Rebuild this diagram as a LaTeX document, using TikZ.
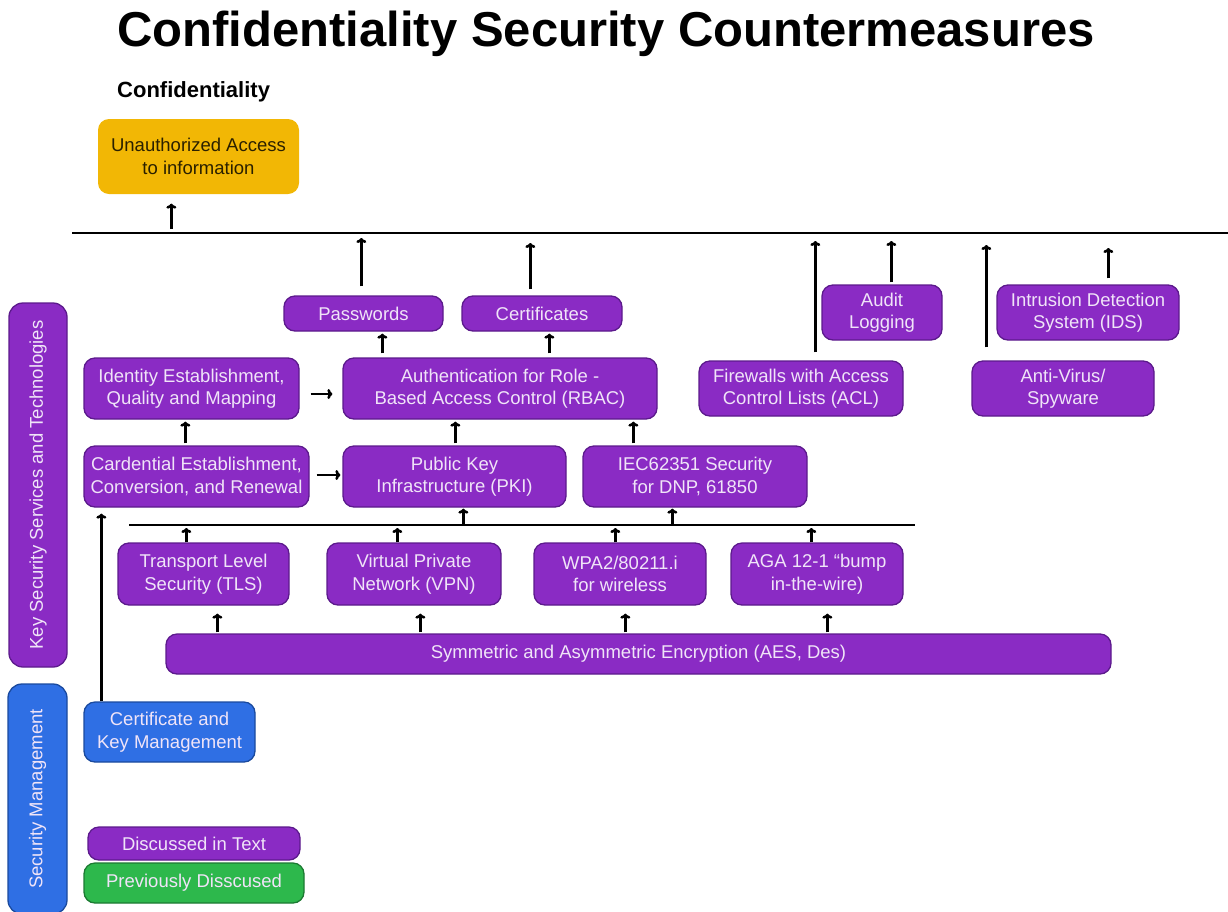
\documentclass[tikz,border=0pt]{standalone}
\usepackage{fontspec}
\setmainfont{Liberation Sans}
\usetikzlibrary{arrows.meta}
\definecolor{pfill}{HTML}{8A2BC4}
\definecolor{pdraw}{HTML}{5C1A8C}
\definecolor{ptext}{HTML}{F0E4F8}
\definecolor{bfill}{HTML}{2F6FE4}
\definecolor{bdraw}{HTML}{1A4A9E}
\definecolor{gfill}{HTML}{2DB84C}
\definecolor{gdraw}{HTML}{1C7A32}
\definecolor{yfill}{HTML}{F2B705}
\definecolor{ytext}{HTML}{2A2000}
\tikzset{
  boxbase/.style={rounded corners=11pt, line width=1.3pt, align=center, inner sep=0pt,
    font=\fontsize{18.5}{22.5}\selectfont},
  pbox/.style={boxbase, draw=pdraw, fill=pfill, text=ptext},
  bbox/.style={boxbase, draw=bdraw, fill=bfill, text=ptext},
  gbox/.style={boxbase, draw=gdraw, fill=gfill, text=ptext},
  ybox/.style={boxbase, draw=none, fill=yfill, text=ytext},
  sz/.style 2 args={minimum width=#1pt, minimum height=#2pt},
  arr/.style={-{To[length=5pt,width=10pt]}, line width=2.6pt},
  bus/.style={line width=2.6pt},
}
\begin{document}
\begin{tikzpicture}[x=1pt,y=1pt]
\useasboundingbox (0,0) rectangle (1228,-911);
\clip (0,0) rectangle (1228,-911);

% titles
\node[anchor=base, font=\fontsize{49}{55}\selectfont\bfseries] (title) at (606,-46) {Confidentiality Security Countermeasures};
\node[anchor=base west, inner sep=0pt, font=\fontsize{22}{26}\selectfont\bfseries] (sub) at (117,-97) {Confidentiality};

% side bars
\node[pbox, rotate=90, sz={364}{58}, rounded corners=14pt] (ksst) at (38,-485) {Key Security Services and Technologies};
\node[bbox, rotate=90, sz={230}{59}, rounded corners=14pt] (sm) at (37.5,-799) {Security Management};

% boxes
\node[ybox, sz={201}{75}] (ua) at (198.5,-156.5) {Unauthorized Access\\to information};
\node[pbox, sz={159}{35}] (pw) at (363.5,-313.5) {Passwords};
\node[pbox, sz={160}{35}] (cert) at (542,-313.5) {Certificates};
\node[pbox, sz={314}{61}] (auth) at (500,-388.5) {Authentication for Role -\\Based Access Control (RBAC)};
\node[pbox, sz={215}{61}] (ident) at (191.5,-388.5) {Identity Establishment,\\Quality and Mapping};
\node[pbox, sz={204}{55}] (fw) at (801,-388.5) {Firewalls with Access\\Control Lists (ACL)};
\node[pbox, sz={120}{55}] (al) at (882,-312.5) {Audit\\Logging};
\node[pbox, sz={182}{55}] (av) at (1063,-388.5) {Anti-Virus/\\Spyware};
\node[pbox, sz={182}{55}] (ids) at (1088,-312.5) {Intrusion Detection\\System (IDS)};
\node[pbox, sz={225}{61}] (card) at (196.5,-476.5) {Cardential Establishment,\\Conversion, and Renewal};
\node[pbox, sz={223}{61}] (pki) at (454.5,-476.5) {Public Key\\Infrastructure (PKI)};
\node[pbox, sz={224}{61}] (iec) at (695,-476.5) {IEC62351 Security\\for DNP, 61850};
\node[pbox, sz={171}{62}] (tls) at (203.5,-574) {Transport Level\\Security (TLS)};
\node[pbox, sz={174}{62}] (vpn) at (414,-574) {Virtual Private\\Network (VPN)};
\node[pbox, sz={172}{62}] (wpa) at (620,-574) {WPA2/80211.i\\for wireless};
\node[pbox, sz={172}{62}] (aga) at (817,-574) {AGA 12-1 ``bump\\in-the-wire)};
\node[pbox, sz={945}{40}] (sym) at (638.5,-654) {Symmetric and Asymmetric Encryption (AES, Des)};
\node[bbox, sz={171}{60}] (ckm) at (169.5,-732) {Certificate and\\Key Management};
\node[pbox, sz={212}{33}] (dit) at (194,-843.5) {Discussed in Text};
\node[gbox, sz={220}{40}] (pd) at (194,-883) {Previously Disscused};

% buses
\coordinate (t1) at (72,-233);
\coordinate (t2) at (1228,-233);
\draw[bus] (t1) -- (t2);
\coordinate (m1) at (129,-525);
\coordinate (m2) at (915,-525);
\draw[bus] (m1) -- (m2);

% arrows to top bus
\draw[arr, shorten <=4pt, shorten >=9pt] ([xshift=74pt]ua.south west |- t1) -- ([xshift=74pt]ua.south west);
\draw[arr, shorten <=9pt, shorten >=5pt] ([xshift=78pt]pw.north west) -- ([xshift=78pt]pw.north west |- t1);
\draw[arr, shorten <=6pt, shorten >=10pt] ([xshift=69pt]cert.north west) -- ([xshift=69pt]cert.north west |- t1);
\draw[arr, shorten <=8pt, shorten >=8pt] ([xshift=117pt]fw.north west) -- ([xshift=117pt]fw.north west |- t1);
\draw[arr, shorten <=2pt, shorten >=8pt] ([xshift=70pt]al.north west) -- ([xshift=70pt]al.north west |- t1);
\draw[arr, shorten <=13pt, shorten >=12pt] ([xshift=15pt]av.north west) -- ([xshift=15pt]av.north west |- t1);
\draw[arr, shorten <=6pt, shorten >=15pt] ([xshift=112pt]ids.north west) -- ([xshift=112pt]ids.north west |- t1);

% auth level
\draw[arr, shorten <=4pt, shorten >=2pt] ([xshift=40pt]auth.north west) -- ([xshift=40pt]auth.north west |- pw.south);
\draw[arr, shorten <=4pt, shorten >=2pt] ([xshift=207pt]auth.north west) -- ([xshift=207pt]auth.north west |- cert.south);
\draw[arr, shorten <=11pt, shorten >=10pt] ([yshift=-5.5pt]ident.east) -- ([yshift=-5.5pt]ident.east -| auth.west);

% card / pki / iec level
\draw[arr, shorten <=2pt, shorten >=2pt] ([xshift=102pt]card.north west) -- ([xshift=102pt]card.north west |- ident.south);
\draw[arr, shorten <=7pt, shorten >=2pt] ([yshift=1.5pt]card.east) -- ([yshift=1.5pt]card.east -| pki.west);
\draw[arr, shorten <=2pt, shorten >=2pt] ([xshift=113pt]pki.north west) -- ([xshift=113pt]pki.north west |- auth.south);
\draw[arr, shorten <=2pt, shorten >=2pt] ([xshift=51pt]iec.north west) -- ([xshift=51pt]iec.north west |- auth.south);

% middle bus
\draw[arr, shorten >=1pt] ([xshift=121pt]pki.south west |- m1) -- ([xshift=121pt]pki.south west);
\draw[arr, shorten >=1pt] ([xshift=90pt]iec.south west |- m1) -- ([xshift=90pt]iec.south west);
\draw[arr, shorten >=3pt] ([xshift=69pt]tls.north west) -- ([xshift=69pt]tls.north west |- m1);
\draw[arr, shorten >=3pt] ([xshift=71pt]vpn.north west) -- ([xshift=71pt]vpn.north west |- m1);
\draw[arr, shorten >=3pt] ([xshift=82pt]wpa.north west) -- ([xshift=82pt]wpa.north west |- m1);
\draw[arr, shorten >=3pt] ([xshift=81pt]aga.north west) -- ([xshift=81pt]aga.north west |- m1);

% encryption up
\draw[arr, shorten <=1pt, shorten >=8pt] ([xshift=52pt]sym.north west) -- ([xshift=52pt]sym.north west |- tls.south);
\draw[arr, shorten <=1pt, shorten >=8pt] ([xshift=255pt]sym.north west) -- ([xshift=255pt]sym.north west |- vpn.south);
\draw[arr, shorten <=1pt, shorten >=8pt] ([xshift=460pt]sym.north west) -- ([xshift=460pt]sym.north west |- wpa.south);
\draw[arr, shorten <=1pt, shorten >=8pt] ([xshift=662pt]sym.north west) -- ([xshift=662pt]sym.north west |- aga.south);

% key management up
\draw[arr, shorten >=6pt] ([xshift=18pt]ckm.north west) -- ([xshift=18pt]ckm.north west |- card.south);
\end{tikzpicture}
\end{document}
